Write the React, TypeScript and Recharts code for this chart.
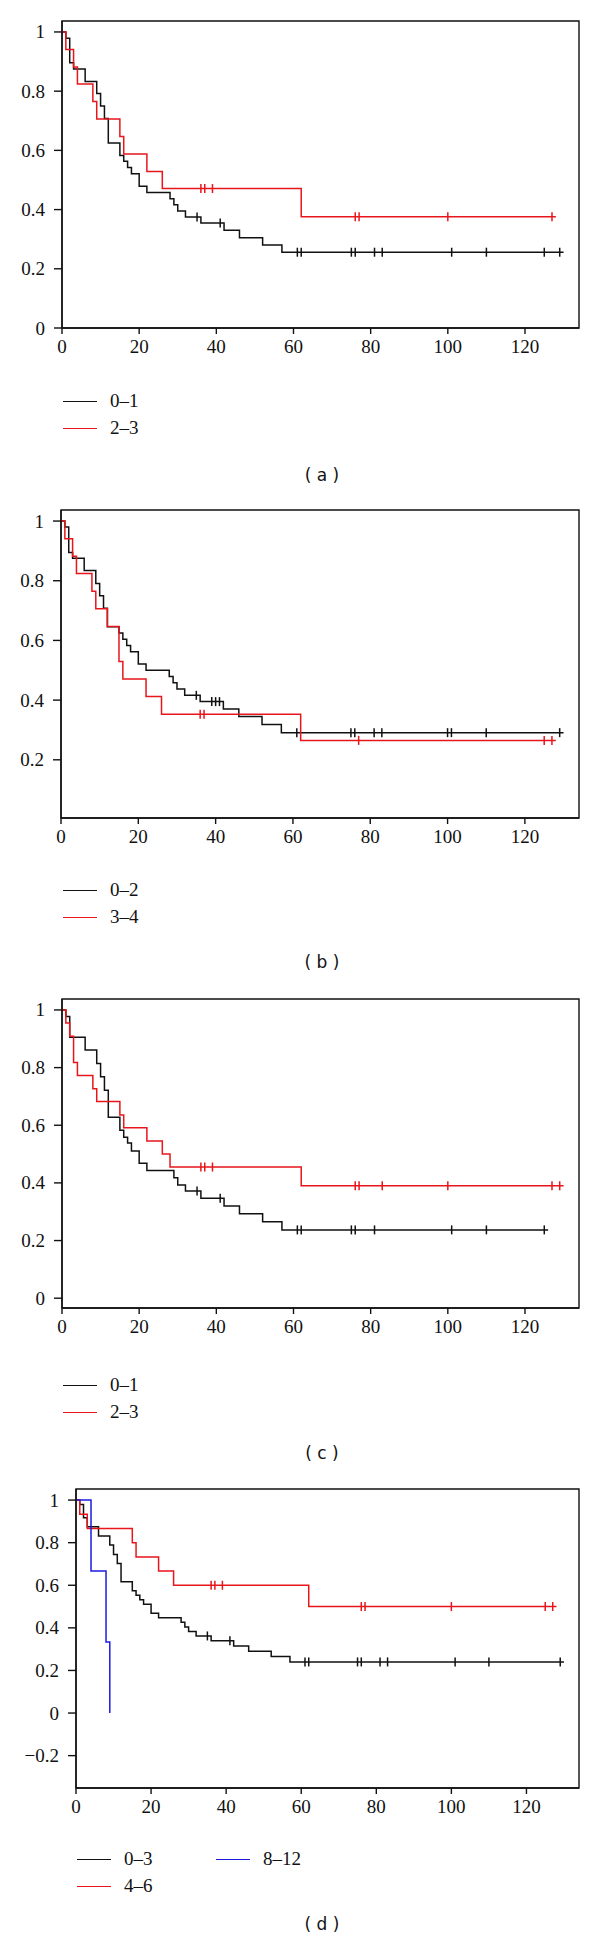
import React from 'react';
import { ComposedChart, Line, Scatter, XAxis, YAxis, ReferenceArea } from 'recharts';

type Pt = [number, number];

const BLACK = '#111111';
const RED = '#e8151b';
const BLUE = '#1c1ce0';

const xTicks = [0, 20, 40, 60, 80, 100, 120];
const yTicksFull = [0, 0.2, 0.4, 0.6, 0.8, 1];
const yTicksNoZero = [0.2, 0.4, 0.6, 0.8, 1];
const yTicksNeg = [-0.2, 0, 0.2, 0.4, 0.6, 0.8, 1];

// (a) 0–1 vs 2–3
const aBlack: Pt[] = [[0, 1], [1, 0.979], [2, 0.896], [3, 0.875], [6, 0.833], [9, 0.792], [10, 0.75], [11, 0.708], [12, 0.625], [15, 0.583], [16, 0.563], [17, 0.542], [18, 0.521], [20, 0.479], [22, 0.458], [28, 0.437], [29, 0.416], [30, 0.395], [32, 0.375], [36, 0.355], [42, 0.33], [46, 0.305], [52, 0.28], [57, 0.256], [130, 0.256]];
const aBlackCens = [35, 41, 61, 62, 75, 76, 81, 83, 101, 110, 125, 129];
const aRed: Pt[] = [[0, 1], [1, 0.941], [3, 0.882], [4, 0.824], [8, 0.765], [9, 0.706], [15, 0.647], [16, 0.588], [22, 0.529], [26, 0.471], [62, 0.376], [128, 0.376]];
const aRedCens = [36, 37, 39, 76, 77, 100, 127];

// (b) 0–2 vs 3–4
const bBlack: Pt[] = [[0, 1], [1, 0.98], [2, 0.895], [3, 0.875], [6, 0.834], [9, 0.791], [10, 0.75], [11, 0.708], [12, 0.646], [15, 0.625], [16, 0.604], [17, 0.583], [18, 0.562], [20, 0.521], [22, 0.5], [28, 0.479], [29, 0.458], [30, 0.437], [32, 0.416], [36, 0.395], [42, 0.37], [46, 0.345], [52, 0.318], [57, 0.291], [130, 0.291]];
const bBlackCens = [35, 39, 40, 41, 61, 75, 76, 81, 83, 100, 101, 110, 129];
const bRed: Pt[] = [[0, 1], [1, 0.941], [3, 0.882], [4, 0.824], [8, 0.765], [9, 0.706], [12, 0.647], [15, 0.529], [16, 0.471], [22, 0.412], [26, 0.353], [62, 0.265], [128, 0.265]];
const bRedCens = [36, 37, 77, 125, 127];

// (c) 0–1 vs 2–3
const cBlack: Pt[] = [[0, 1], [1, 0.977], [2, 0.905], [6, 0.861], [9, 0.814], [10, 0.768], [11, 0.721], [12, 0.628], [15, 0.583], [16, 0.558], [17, 0.538], [18, 0.511], [20, 0.468], [22, 0.443], [29, 0.418], [30, 0.393], [32, 0.372], [36, 0.347], [42, 0.32], [46, 0.293], [52, 0.265], [57, 0.237], [126, 0.237]];
const cBlackCens = [35, 41, 61, 62, 75, 76, 81, 101, 110, 125];
const cRed: Pt[] = [[0, 1], [1, 0.955], [2, 0.909], [3, 0.818], [4, 0.773], [8, 0.727], [9, 0.682], [15, 0.636], [16, 0.591], [22, 0.545], [26, 0.5], [28, 0.455], [62, 0.39], [130, 0.39]];
const cRedCens = [36, 37, 39, 76, 77, 83, 100, 127, 129];

// (d) 0–3 vs 4–6 vs 8–12
const dBlack: Pt[] = [[0, 1], [1, 0.979], [2, 0.917], [3, 0.875], [6, 0.831], [9, 0.789], [10, 0.745], [11, 0.702], [12, 0.617], [15, 0.574], [16, 0.553], [17, 0.532], [18, 0.511], [20, 0.468], [22, 0.447], [28, 0.426], [29, 0.404], [30, 0.383], [32, 0.362], [36, 0.34], [42, 0.315], [46, 0.29], [52, 0.265], [57, 0.24], [130, 0.24]];
const dBlackCens = [35, 41, 61, 62, 75, 76, 81, 83, 101, 110, 129];
const dRed: Pt[] = [[0, 1], [1, 0.933], [3, 0.867], [15, 0.8], [16, 0.733], [22, 0.667], [26, 0.6], [62, 0.5], [128, 0.5]];
const dRedCens = [36, 37, 39, 76, 77, 100, 125, 127];
const dBlue: Pt[] = [[0, 1], [4, 0.667], [8, 0.333], [9, 0]];
const dBlueCens: number[] = [];

interface Series { name: string; color: string; pts: Pt[]; cens: number[]; lx: number; ly: number }
interface PanelSpec {
  label: string; top: number; bottom: number; left: number;
  yDomain: [number, number]; yTicks: number[]; captionY: number; series: Series[];
}

const panels: PanelSpec[] = [
  {
    label: '( a )', top: 21, bottom: 328, left: 62, yDomain: [0, 1.037], yTicks: yTicksFull, captionY: 475,
    series: [
      { name: '0–1', color: BLACK, pts: aBlack, cens: aBlackCens, lx: 63, ly: 401 },
      { name: '2–3', color: RED, pts: aRed, cens: aRedCens, lx: 63, ly: 428 },
    ],
  },
  {
    label: '( b )', top: 510, bottom: 818, left: 61, yDomain: [0.005, 1.037], yTicks: yTicksNoZero, captionY: 962,
    series: [
      { name: '0–2', color: BLACK, pts: bBlack, cens: bBlackCens, lx: 63, ly: 890 },
      { name: '3–4', color: RED, pts: bRed, cens: bRedCens, lx: 63, ly: 917 },
    ],
  },
  {
    label: '( c )', top: 999, bottom: 1308, left: 62, yDomain: [-0.034, 1.038], yTicks: yTicksFull, captionY: 1453,
    series: [
      { name: '0–1', color: BLACK, pts: cBlack, cens: cBlackCens, lx: 63, ly: 1385 },
      { name: '2–3', color: RED, pts: cRed, cens: cRedCens, lx: 63, ly: 1412 },
    ],
  },
  {
    label: '( d )', top: 1489, bottom: 1788, left: 76, yDomain: [-0.352, 1.052], yTicks: yTicksNeg, captionY: 1924,
    series: [
      { name: '0–3', color: BLACK, pts: dBlack, cens: dBlackCens, lx: 77, ly: 1859 },
      { name: '4–6', color: RED, pts: dRed, cens: dRedCens, lx: 77, ly: 1886 },
      { name: '8–12', color: BLUE, pts: dBlue, cens: dBlueCens, lx: 216, ly: 1859 },
    ],
  },
];

const survAt = (pts: Pt[], t: number) => {
  let s = pts[0][1];
  for (const [pt, ps] of pts) if (pt <= t) s = ps;
  return s;
};

const fmtY = (v: number) => (v < 0 ? '−' + Math.abs(v) : String(v));

// tick label in the page's default serif face
const AxisTick = (props: any) => {
  const { x, y, payload, textAnchor, orient, tickFormatter } = props;
  const label = tickFormatter ? tickFormatter(payload.value) : String(payload.value);
  const dy = orient === 'bottom' ? 14 : 6.5;
  return (
    <text x={x} y={y} dy={dy} textAnchor={textAnchor} fill="#111" style={{ fontSize: 19 }}>
      {label}
    </text>
  );
};

function KMPanel({ p }: { p: PanelSpec }) {
  const h = p.bottom - p.top + 10 + 45;
  return (
    <div style={{ position: 'absolute', left: 0, top: p.top - 10, width: 600, height: h }}>
      <ComposedChart width={600} height={h} margin={{ top: 10, right: 21, bottom: 0, left: 0 }}>
        <XAxis type="number" dataKey="t" domain={[0, 134]} ticks={xTicks} interval={0} allowDataOverflow
          height={45} tickSize={6} tickMargin={12} stroke={BLACK} strokeWidth={1.4} tick={<AxisTick />} />
        <YAxis type="number" dataKey="s" domain={p.yDomain} ticks={p.yTicks} interval={0} allowDataOverflow
          width={p.left} tickSize={8} tickMargin={9} stroke={BLACK} strokeWidth={1.4} tick={<AxisTick />} tickFormatter={fmtY} />
        <ReferenceArea x1={0} x2={134} y1={p.yDomain[0]} y2={p.yDomain[1]} fill="none" stroke={BLACK} strokeWidth={1.4} ifOverflow="visible" />
        {p.series.map((s) => (
          <Line key={s.name} data={s.pts.map(([t, v]) => ({ t, s: v }))} dataKey="s" type="stepAfter"
            stroke={s.color} strokeWidth={1.5} dot={false} activeDot={false} isAnimationActive={false} />
        ))}
        {p.series.filter((s) => s.cens.length > 0).map((s) => (
          <Scatter key={s.name + 'c'} data={s.cens.map((t) => ({ t, s: survAt(s.pts, t) }))} dataKey="s"
            isAnimationActive={false}
            shape={(props: any) => (
              <line x1={props.cx} x2={props.cx} y1={props.cy - 4.5} y2={props.cy + 4.5} stroke={s.color} strokeWidth={1.5} />
            )} />
        ))}
      </ComposedChart>
    </div>
  );
}

function PanelLegend({ p }: { p: PanelSpec }) {
  return (
    <>
      {p.series.map((s) => (
        <div key={s.name} style={{ position: 'absolute', left: s.lx, top: s.ly - 12, height: 24, display: 'flex', alignItems: 'center' }}>
          <div style={{ width: 34, height: 0, borderTop: `1.5px solid ${s.color}` }} />
          <span style={{ marginLeft: 13, fontSize: 19, lineHeight: '24px', color: '#111' }}>{s.name}</span>
        </div>
      ))}
      <div style={{
        position: 'absolute', left: 0, width: 644, top: p.captionY - 12, height: 24, lineHeight: '24px',
        textAlign: 'center', fontFamily: 'DejaVu Sans', fontSize: 17, color: '#111',
      }}>{p.label}</div>
    </>
  );
}

export default function App() {
  return (
    <div style={{ position: 'absolute', left: 0, top: 0, width: 600, height: 1946, background: '#fff', overflow: 'hidden' }}>
      {panels.map((p) => (
        <React.Fragment key={p.label}>
          <KMPanel p={p} />
          <PanelLegend p={p} />
        </React.Fragment>
      ))}
    </div>
  );
}
